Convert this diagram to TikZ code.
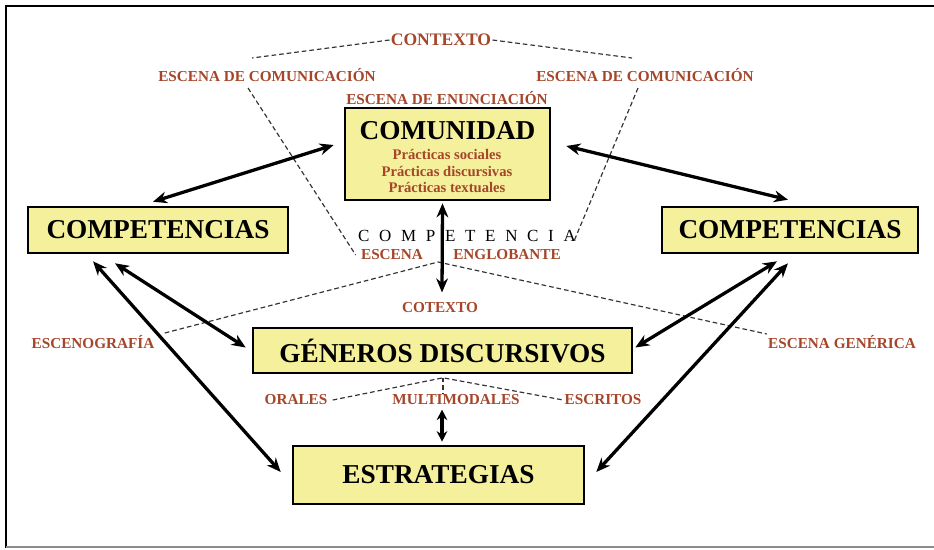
\documentclass[tikz,border=0pt]{standalone}
\usepackage{fontspec}
\setmainfont{Liberation Serif}
\usetikzlibrary{arrows.meta,calc}
\definecolor{ladrillo}{HTML}{A5462A}
\definecolor{amarillo}{HTML}{F4F09C}

\begin{document}
\begin{tikzpicture}[
    x=0.03cm, y=-0.03cm,
    caja/.style={draw=black, line width=2.2pt, fill=amarillo, inner sep=0pt},
    titulo/.style={font=\fontsize{23.3}{26}\selectfont\bfseries, inner sep=0pt},
    etiq/.style={text=ladrillo, font=\fontsize{13}{14}\selectfont\bfseries, inner sep=1pt},
    linea/.style={dash pattern=on 4pt off 2.5pt, line width=1pt, black!80},
    flecha/.style={line width=2.8pt, {Stealth[length=12pt,width=10pt]}-{Stealth[length=12pt,width=10pt]}}
]
\useasboundingbox (0,0) rectangle (934,549);

% === Marco ===
\draw[line width=2.4pt] (6,548) -- (6,6) -- (934,6);
\draw[black!45, line width=1.4pt] (6,547) -- (934,547);

% === Contexto y escenas ===
\node[etiq, font=\fontsize{15}{16}\selectfont\bfseries] (contexto) at (441,40) {CONTEXTO};
\node[etiq] (comizq) at (267,75) {ESCENA DE COMUNICACIÓN};
\node[etiq] (comder) at (645,75) {ESCENA DE COMUNICACIÓN};
\node[etiq] (enunciacion) at (447,98) {ESCENA DE ENUNCIACIÓN};

% === Cajas ===
\node[caja, minimum width=6.15cm, minimum height=2.76cm] (comunidad) at (447.5,154) {};
\node[titulo] (comtit) at (447.5,131) {COMUNIDAD};
\node[etiq, align=center, font=\fontsize{12.5}{13.7}\selectfont\bfseries] (practicas) at (447,171)
    {Prácticas sociales\\Prácticas discursivas\\Prácticas textuales};

\node[caja, minimum width=7.8cm, minimum height=1.38cm, titulo] (compizq) at (158,230) {COMPETENCIAS};
\node[caja, minimum width=7.68cm, minimum height=1.38cm, titulo] (compder) at (790,230) {COMPETENCIAS};
\node[caja, minimum width=11.37cm, minimum height=1.35cm, titulo] (generos) at (442.5,350.5) {GÉNEROS DISCURSIVOS};
\node[caja, minimum width=8.73cm, minimum height=1.74cm, titulo] (estrategias) at (438.5,475) {ESTRATEGIAS};

% === Textos centrales ===
\node[font=\fontsize{14.5}{16}\selectfont, inner sep=0pt] (competencia) at (467,236)
    {\spaceskip=0.57em C O M P E T E N C I A};
\node[etiq] (escena) at (392,255) {ESCENA};
\node[etiq] (englobante) at (507,255) {ENGLOBANTE};
\node[etiq] (cotexto) at (440,308) {COTEXTO};
\node[etiq] (escenografia) at (93,342) {ESCENOGRAFÍA};
\node[etiq] (generica) at (842,342) {ESCENA GENÉRICA};
\node[etiq] (orales) at (296,400) {ORALES};
\node[etiq] (multimodales) at (456,400) {MULTIMODALES};
\node[etiq] (escritos) at (603,400) {ESCRITOS};

% === Lineas punteadas ===
\coordinate (ctxizq) at (252,58);
\coordinate (ctxder) at (632,58);
\coordinate (bajaizq) at (248,88);
\coordinate (bajader) at (638,88);
\coordinate (cruce) at (438,262);
\coordinate (genbajo) at ($(generos.south)+(0.5,3.5)$);

\draw[linea] (contexto.west) -- (ctxizq);
\draw[linea] (contexto.east) -- (ctxder);
\draw[linea] (bajaizq) -- ($(escena.west)+(-4,0)$);
\draw[linea] (bajader) -- ($(competencia.east)+(-2,5)$);
\draw[linea] ($(escenografia.east)+(9,-9)$) -- (cruce) -- ($(generica.west)+(0,-8)$);
\draw[linea] ($(orales.east)+(4,0)$) -- (genbajo) -- ($(escritos.west)+(0,0)$);
\draw[linea] (genbajo) -- (genbajo |- multimodales.north);

% === Flechas ===
\draw[flecha] ($(comunidad.west)+(-10,-9)$) -- ($(compizq.north)+(-5,-4)$);
\draw[flecha] ($(comunidad.east)+(15,-8)$) -- ($(compder.north)+(-2,-6)$);
\draw[flecha] ($(compizq.south)+(-43,9)$) -- ($(generos.west)+(-6,-3)$);
\draw[flecha] ($(compizq.south)+(-65,7)$) -- ($(estrategias.west)+(-11,-3)$);
\draw[flecha] ($(compder.south)+(-13,7)$) -- ($(generos.east)+(2,-3)$);
\draw[flecha] ($(compder.south)+(-2,9)$) -- ($(estrategias.east)+(11,-3)$);
\draw[flecha] ($(comunidad.south)+(-5,2)$) -- ($(cotexto.north)+(2,-9)$);
\draw[line width=2.8pt, {Stealth[length=9pt,width=9pt]}-{Stealth[length=9pt,width=9pt]}]
    ($(multimodales.south)+(-14,3)$) -- ($(estrategias.north)+(3.5,-3)$);

\end{tikzpicture}
\end{document}
